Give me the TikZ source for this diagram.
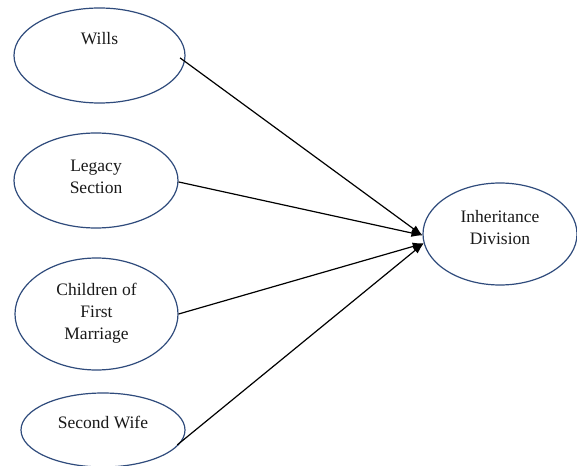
\documentclass[tikz,border=0pt]{standalone}
\usepackage{fontspec}
\setmainfont{Liberation Serif}
\usetikzlibrary{shapes.geometric,arrows.meta}
\definecolor{navy}{HTML}{2F4B7C}
\begin{document}
\begin{tikzpicture}[x=1pt,y=-1pt,
  oval/.style={draw=navy,line width=1.2pt,ellipse,inner sep=0pt},
  lbl/.style={font=\fontsize{17.5}{22}\selectfont,align=center,inner sep=0pt,text=black!90},
  link/.style={draw=black,line width=1.2pt,-{Latex[length=11pt,width=8pt]}}]
\useasboundingbox (0,0) rectangle (577,465);
\fill[white] (0,0) rectangle (577,465);
\node[oval,minimum width=171pt,minimum height=95pt] (wills) at (99.5,55.5) {};
\node[oval,minimum width=164pt,minimum height=95pt] (legacy) at (96,180.5) {};
\node[oval,minimum width=163pt,minimum height=112pt] (children) at (96.5,314) {};
\node[oval,minimum width=164pt,minimum height=74pt] (wife) at (103,430) {};
\node[oval,minimum width=154pt,minimum height=102pt] (inh) at (500,234) {};
\node[lbl] (willsT) at (99.5,39) {Wills};
\node[lbl] (legacyT) at (96,177) {Legacy\\Section};
\node[lbl] (childrenT) at (96.5,313) {Children of\\First\\Marriage};
\node[lbl] (wifeT) at (103,422) {Second Wife};
\node[lbl] (inhT) at (500,228) {Inheritance\\Division};
\draw[link,shorten <=-6pt] (wills.-4) -- (inh.181);
\draw[link] (legacy.-1) -- (inh.181);
\draw[link] (children.0) -- (inh.187);
\draw[link,shorten <=-6pt] (wife.-8) -- (inh.187);
\end{tikzpicture}
\end{document}
